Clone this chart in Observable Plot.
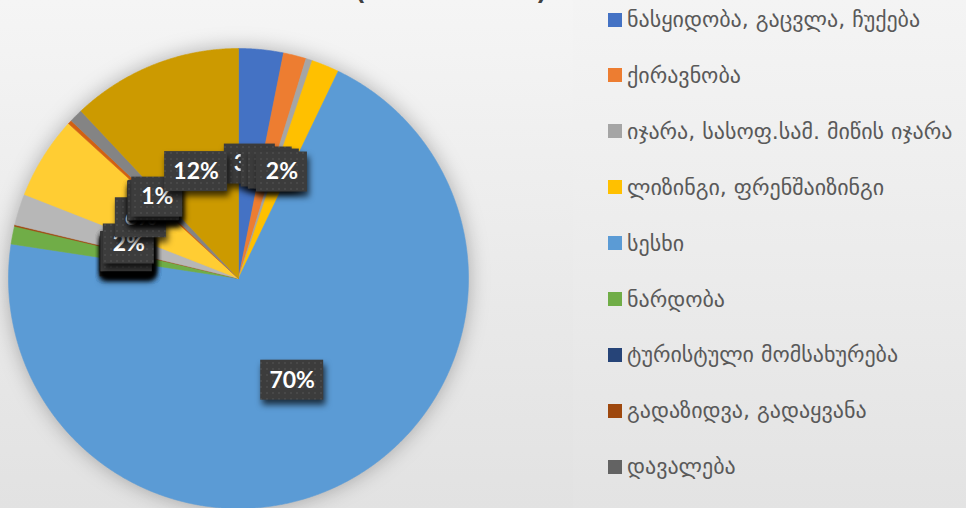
<!DOCTYPE html>
<html>
<head>
<meta charset="utf-8">
<script src="https://cdn.jsdelivr.net/npm/d3@7"></script>
<script src="https://cdn.jsdelivr.net/npm/@observablehq/plot@0.6"></script>
<style>
html, body { margin: 0; padding: 0; }
body { width: 966px; height: 508px; overflow: hidden; background: linear-gradient(180deg, #f5f5f5 0%, #e9e9e9 60%, #e2e2e2 100%); font-family: "DejaVu Sans", sans-serif; }
#wrap { position: relative; width: 966px; height: 508px; overflow: hidden; }
#panel { position: absolute; left: 573px; top: 0; width: 393px; height: 508px; background: linear-gradient(180deg, #f4f4f4 0%, #ebebeb 55%, #e3e3e3 100%); }
#chart { position: absolute; left: 0; top: 0; }
#title { position: absolute; right: 409px; top: -40px; font-size: 44px; line-height: 44px; color: #404040; white-space: nowrap; font-family: "DejaVu Sans Mono", monospace; }
#title .ka { position: relative; top: -10px; font-family: "DejaVu Sans", sans-serif; }
#legend { position: absolute; left: 608px; top: 0; width: 358px; height: 508px; }
.item { position: absolute; left: 0; height: 26px; display: flex; align-items: center; white-space: nowrap; color: #595959; font-size: 22px; font-family: "DejaVu Sans", sans-serif; }
.sw { width: 14px; height: 14px; margin-right: 5px; flex: none; }
#chart g[aria-label="line"] { filter: drop-shadow(0px 0px 10px rgba(0,0,0,0.28)); }
#chart g[aria-label="rect"] rect { filter: drop-shadow(2px 5px 3px rgba(0,0,0,0.7)); }
</style>
</head>
<body>
<svg width="0" height="0" style="position:absolute">
  <defs>
    <pattern id="dots" width="6" height="6" patternUnits="userSpaceOnUse">
      <rect width="6" height="6" fill="#3c3c3c"></rect>
      <circle cx="3" cy="3" r="0.8" fill="#575757"></circle>
    </pattern>
  </defs>
</svg>
<div id="wrap">
  <div id="panel"></div>
  <div id="chart"></div>
  <div id="title"><span class="ka">სასამართლო დავები</span> (11 555)</div>
  <div id="legend"></div>
</div>
<script>
// ---- data ----
const categories = [
  "ნასყიდობა, გაცვლა, ჩუქება",
  "ქირავნობა",
  "იჯარა, სასოფ.სამ. მიწის იჯარა",
  "ლიზინგი, ფრენშაიზინგი",
  "სესხი",
  "ნარდობა",
  "ტურისტული მომსახურება",
  "გადაზიდვა, გადაყვანა",
  "დავალება",
  "კატეგორია 10",
  "კატეგორია 11",
  "კატეგორია 12",
  "კატეგორია 13",
  "კატეგორია 14",
  "კატეგორია 15",
  "კატეგორია 16",
  "კატეგორია 17",
  "კატეგორია 18",
  "კატეგორია 19",
  "კატეგორია 20",
  "კატეგორია 21",
  "კატეგორია 22"
];
const shares = [3.14, 1.6, 0.45, 1.94, 70.2, 1.25, 0, 0.1, 0, 0, 0, 0, 0, 0, 2.2, 5.8, 0, 0, 0, 0.28, 0.95, 12.0];
const colors = [
  "#4472C4", "#ED7D31", "#A5A5A5", "#FFC000", "#5B9BD5", "#70AD47",
  "#264478", "#9E480E", "#636363", "#997300", "#255E91", "#43682B",
  "#698ED0", "#F1975A", "#B7B7B7", "#FFCD33", "#7CAFDD", "#8CC168",
  "#335AA1", "#D26012", "#848484", "#CC9A00"
];
const legendShown = 9;

// ---- layout ----
const W = 966, H = 508, R = 230, CX = 238, CY = 278;
const labelRadius = 0.5;

const rows = categories.map((name, i) => ({name, share: shares[i], color: colors[i], i}));
const total = d3.sum(shares);
const arcs = d3.pie().sort(null).value(d => d.share)(rows);

// slice outlines
const outline = [];
for (const a of arcs) {
  if (a.endAngle - a.startAngle <= 0) continue;
  const n = Math.max(2, Math.ceil((a.endAngle - a.startAngle) / (Math.PI / 720)));
  outline.push({name: a.data.name, x: 0, y: 0});
  for (let k = 0; k <= n; k++) {
    const t = a.startAngle + (a.endAngle - a.startAngle) * k / n;
    outline.push({name: a.data.name, x: Math.sin(t), y: Math.cos(t)});
  }
  outline.push({name: a.data.name, x: 0, y: 0});
}

// labels
const fmt = d3.format(".0%");
const labels = arcs.map(a => {
  const mid = (a.startAngle + a.endAngle) / 2;
  const text = fmt(a.data.share / total);
  const wPx = 27 + 12 * text.length;
  return {
    text,
    lx: labelRadius * Math.sin(mid),
    ly: labelRadius * Math.cos(mid),
    hw: wPx / 2 / R,
    hh: 20 / R
  };
});

const labelMarks = labels.flatMap(d => [
  Plot.rect([d], {x1: d => d.lx - d.hw, x2: d => d.lx + d.hw, y1: d => d.ly - d.hh, y2: d => d.ly + d.hh, fill: "url(#dots)"}),
  Plot.text([d], {x: "lx", y: "ly", text: "text", fill: "white", fontSize: 23, fontWeight: "bold", fontFamily: "Lato, 'Open Sans', sans-serif"})
]);

const chart = Plot.plot({
  width: W,
  height: H,
  margin: 0,
  x: {domain: [-CX / R, (W - CX) / R], axis: null},
  y: {domain: [-(H - CY) / R, CY / R], axis: null},
  color: {domain: categories, range: colors},
  style: {background: "transparent", overflow: "visible"},
  marks: [
    Plot.line(outline, {x: "x", y: "y", z: "name", fill: "name", stroke: "name", strokeWidth: 0.6, curve: "linear"}),
    ...labelMarks
  ]
});
document.getElementById("chart").appendChild(chart);

// legend
const legend = document.getElementById("legend");
categories.slice(0, legendShown).forEach((name, i) => {
  const item = document.createElement("div");
  item.className = "item";
  item.style.top = (19.5 + 55.9 * i - 13) + "px";
  const sw = document.createElement("span");
  sw.className = "sw";
  sw.style.background = colors[i];
  const tx = document.createElement("span");
  tx.textContent = name;
  item.appendChild(sw);
  item.appendChild(tx);
  legend.appendChild(item);
});
</script>
</body>
</html>
